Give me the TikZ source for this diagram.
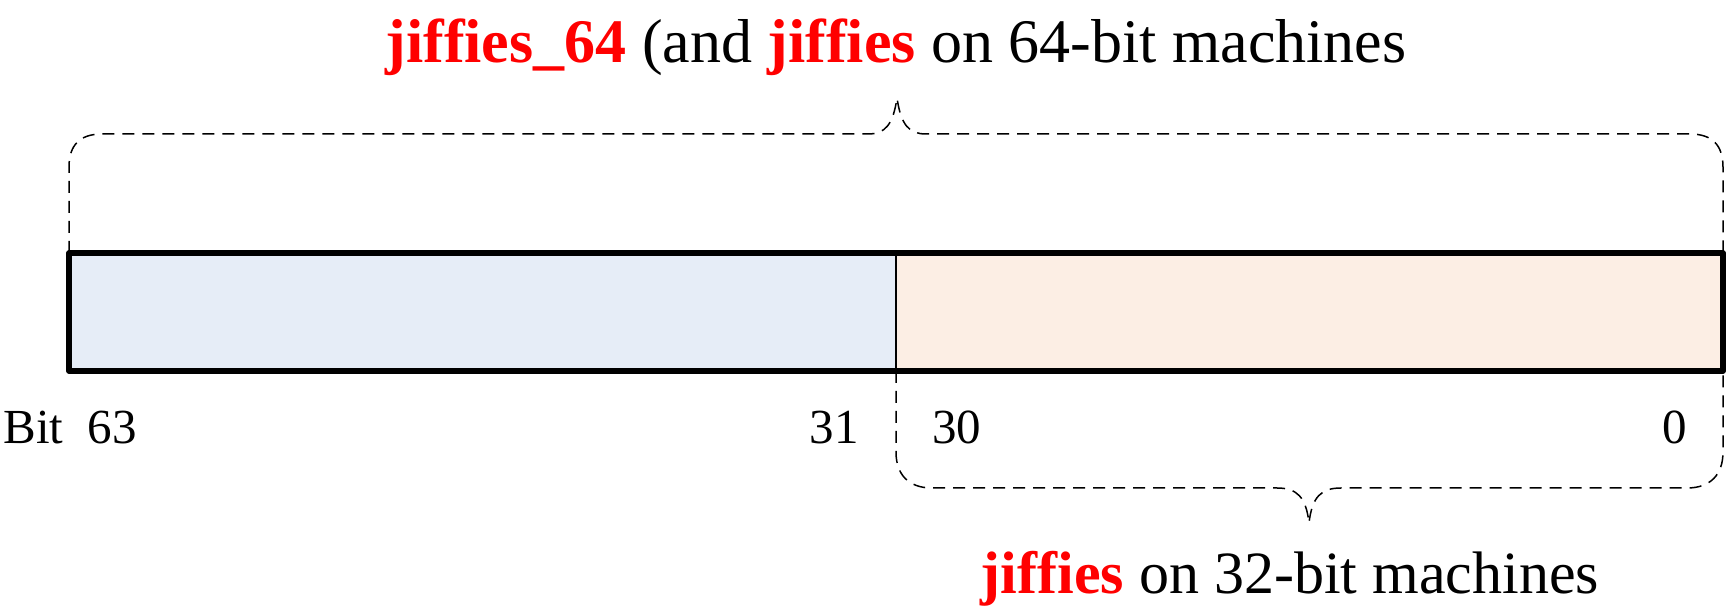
\documentclass[tikz,border=0pt]{standalone}
\usepackage{fontspec}
\setmainfont{Liberation Serif}
\definecolor{hiblue}{HTML}{E6EDF7}
\definecolor{lopeach}{HTML}{FCEEE4}
\definecolor{jred}{HTML}{FF0000}
\newcommand{\jf}[1]{\textcolor{jred}{\bfseries #1}}
\tikzset{
  brace/.style={draw=black,line width=0.75pt,dash pattern=on 6pt off 4pt},
  bitlabel/.style={inner sep=0pt,font=\fontsize{24.5}{27}\selectfont},
  title/.style={inner sep=0pt,anchor=base,font=\fontsize{#1}{34}\selectfont},
  title/.default=30
}
\begin{document}
\begin{tikzpicture}[x=0.5pt,y=-0.5pt]
\useasboundingbox (0,0) rectangle (1726,614);
% the two halves of the 64-bit counter
\coordinate (nw) at (69,253);
\coordinate (mid) at (896,253);
\coordinate (ne) at (1723,253);
\coordinate (sw) at (69,371);
\coordinate (ms) at (896,371);
\coordinate (se) at (1723,371);
\fill[hiblue] (nw) rectangle (ms);
\fill[lopeach] (mid) rectangle (se);
\draw[line width=0.75pt] (mid) -- (ms);
\draw[line width=2.6pt,line join=round] (nw) rectangle (se);
% bit numbers
\node[bitlabel,anchor=base west] (b63) at (3,444) {Bit\ \ 63};
\node[bitlabel,anchor=base east] (b31) at (859,444) {31};
\node[bitlabel,anchor=base west] (b30) at (932,444) {30};
\node[bitlabel,anchor=base east] (b0) at (1687,444) {0};
% upper brace: whole 64 bits
\draw[brace] (nw) -- (69,167) .. controls (69,145) and (80,134) .. (102,134)
  -- (868,134) .. controls (885,134) and (893,125) .. (897,98)
  .. controls (901,125) and (909,134) .. (926,134)
  -- (1690,134) .. controls (1712,134) and (1723,145) .. (1723,167) -- (ne);
\node[title=31] (top) at (896,63) {\jf{jiffies\_64} (and \jf{jiffies} on 64-bit machines};
% lower brace: low 32 bits
\draw[brace] (ms) -- (896,452) .. controls (896,475) and (909,488) .. (932,488)
  -- (1277,488) .. controls (1297,488) and (1306,497) .. (1309,523)
  .. controls (1312,497) and (1321,488) .. (1341,488)
  -- (1687,488) .. controls (1710,488) and (1723,475) .. (1723,452) -- (se);
\node[title=30] (bot) at (1290,594) {\jf{jiffies} on 32-bit machines};
\end{tikzpicture}
\end{document}
